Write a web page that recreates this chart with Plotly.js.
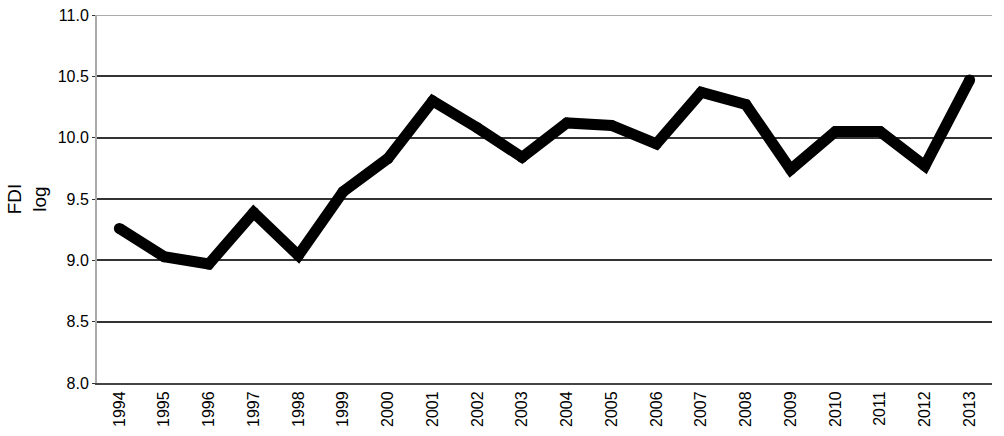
<!DOCTYPE html>
<html>
<head>
<meta charset="utf-8">
<script src="https://cdn.plot.ly/plotly-3.0.1.min.js"></script>
<style>
  body { margin: 0; background: #fff; }
  #fdi-plot { width: 1004px; height: 436px; }
</style>
</head>
<body>
<div id="fdi-plot"></div>
<script>
const years = ['1994', '1995', '1996', '1997', '1998', '1999', '2000', '2001', '2002', '2003',
    '2004', '2005', '2006', '2007', '2008', '2009', '2010', '2011', '2012', '2013'];
const fdiLog = [9.26, 9.03, 8.97, 9.39, 9.04, 9.56, 9.83, 10.30, 10.08, 9.84,
    10.12, 10.10, 9.95, 10.37, 10.27, 9.74, 10.05, 10.05, 9.77, 10.47];
const yTicks = [8.0, 8.5, 9.0, 9.5, 10.0, 10.5, 11.0];

const data = [{
    x: years,
    y: fdiLog,
    type: 'scatter',
    mode: 'lines+markers',
    line: { color: '#000', width: 11 },
    marker: { color: '#000', size: 11 },
    hoverinfo: 'skip',
}];

const layout = {
    width: 1004,
    height: 436,
    margin: { l: 97, r: 12, t: 15, b: 53 },
    paper_bgcolor: '#fff',
    plot_bgcolor: '#fff',
    showlegend: false,
    font: { family: 'Liberation Sans, Arial, sans-serif', color: '#000' },
    xaxis: {
        type: 'category',
        range: [-0.5, 19.5],
        tickangle: -90,
        tickfont: { size: 16 },
        showgrid: false,
        showline: true,
        linecolor: '#444',
        linewidth: 2,
        ticks: '',
        zeroline: false,
    },
    yaxis: {
        range: [8.0, 11.0],
        tickvals: yTicks,
        ticktext: yTicks.map(v => v.toFixed(1)),
        tickfont: { size: 16 },
        showgrid: true,
        gridcolor: '#333',
        gridwidth: 2,
        showline: true,
        linecolor: '#aaa',
        linewidth: 2,
        ticks: 'outside',
        ticklen: 3,
        tickcolor: '#333',
        zeroline: false,
        title: { text: 'FDI<br>log', font: { size: 19 }, standoff: 6 },
    },
    // top border at 11.0 is a light grey line in the original
    shapes: [{
        type: 'line', xref: 'paper', yref: 'y',
        x0: 0, x1: 1, y0: 11.0, y1: 11.0,
        line: { color: '#aaa', width: 2 },
        layer: 'above',
    }],
};

Plotly.newPlot('fdi-plot', data, layout, { displayModeBar: false, staticPlot: true });
</script>
</body>
</html>
